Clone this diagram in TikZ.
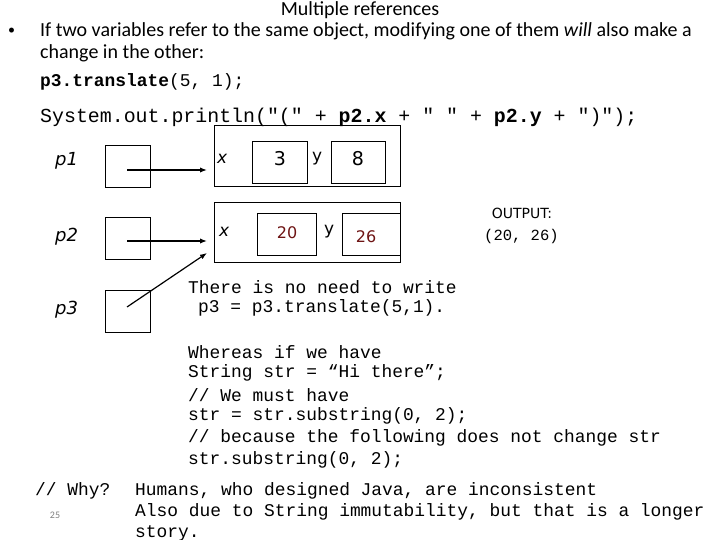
\documentclass[tikz,border=0pt]{standalone}
\usepackage{fontspec}
\setmainfont{Carlito}
\setsansfont{DejaVu Sans}
\setmonofont{Liberation Mono}
\usetikzlibrary{arrows.meta}
\definecolor{valred}{RGB}{110,20,20}

\begin{document}
\begin{tikzpicture}[x=1pt,y=-1pt,
	refbox/.style={draw,thick},
	objbox/.style={draw},
	ref/.style={-{Latex[length=7pt]},very thick},
	code/.style={font=\ttfamily\fontsize{17.9}{21}\selectfont,anchor=west,inner sep=0pt},
	txt/.style={font=\fontsize{20}{22}\selectfont,anchor=west,inner sep=0pt},
	var/.style={font=\sffamily\itshape\fontsize{18}{22}\selectfont,anchor=west,inner sep=0pt}]
	\useasboundingbox (0,0) rectangle (720,540);
	\node[font=\fontsize{20}{22}\selectfont,inner sep=0pt] (title) at (360,10) {Multiple references};
	\node[txt,font=\fontsize{14}{16}\selectfont] (bul) at (8,31) {•};
	\node[txt] (l1) at (40,31) {If two variables refer to the same object, modifying one of them \emph{will} also make a};
	\node[txt] (l2) at (40,53) {change in the other:};
	\node[code] (tr) at (40,82) {\textbf{p3.translate}(5, 1);};
	\node[code,font=\ttfamily\fontsize{19.9}{22}\selectfont] (pr) at (40,117) {System.out.println("(" + \textbf{p2.x} + " " + \textbf{p2.y} + ")");};
	
	% variables
	\node[var] (n1) at (55,161) {p1};
	\node[var] (n2) at (55,237) {p2};
	\node[var] (n3) at (55,310) {p3};
	\draw[refbox] (105,145) rectangle (150,187);
	\draw[refbox] (105,217) rectangle (150,259);
	\draw[refbox] (105,290) rectangle (150,332);
	\coordinate (s1) at (127,170);
	\coordinate (s2) at (127,241);
	\coordinate (s3) at (127,307);
	
	% objects
	\draw[objbox] (214,125) rectangle (400,186);
	\draw[objbox] (214,202) rectangle (400,262);
	\coordinate (o1) at (207,170);
	\coordinate (o2) at (207,241);
	\coordinate (o3) at (207,253);
	\node[var,font=\sffamily\itshape\fontsize{17}{20}\selectfont] (x1) at (217,159) {x};
	\node[var,font=\sffamily\fontsize{17}{20}\selectfont] (y1) at (312,159) {y};
	\node[var,font=\sffamily\itshape\fontsize{17}{20}\selectfont] (x2) at (219,232) {x};
	\node[var,font=\sffamily\fontsize{17}{20}\selectfont] (y2) at (324,232) {y};
	\draw[refbox] (252,141) rectangle (307,183);
	\draw[refbox] (331,141) rectangle (385,183);
	\draw[refbox] (257,213) rectangle (316,255);
	\draw[refbox] (342,213) rectangle (400,255);
	\node[font=\sffamily\fontsize{19}{22}\selectfont] (v1) at (280,159) {3};
	\node[font=\sffamily\fontsize{19}{22}\selectfont] (v2) at (358,159) {8};
	\node[font=\sffamily\fontsize{16}{20}\selectfont,text=valred] (v3) at (287,233) {20};
	\node[font=\sffamily\fontsize{16}{20}\selectfont,text=valred] (v4) at (366,237) {26};
	
	\draw[ref] (s1) -- (o1);
	\draw[ref] (s2) -- (o2);
	\draw[ref] (s3) -- (o3);
	
	\node[font=\sffamily\fontsize{14}{18}\selectfont] (out) at (522,213) {OUTPUT:};
	\node[code,font=\ttfamily\fontsize{15.5}{18}\selectfont] (res) at (484,236) {(20, 26)};
	
	\node[code] (c1) at (188,287) {There is no need to write};
	\node[code] (c2) at (198,308) {p3 = p3.translate(5,1).};
	\node[code] (c3) at (188,352) {Whereas if we have};
	\node[code] (c4) at (188,373) {String str = “Hi there”;};
	\node[code] (c5) at (188,395) {// We must have};
	\node[code] (c6) at (188,416) {str = str.substring(0, 2);};
	\node[code] (c7) at (188,438) {// because the following does not change str};
	\node[code] (c8) at (188,460) {str.substring(0, 2);};
	\node[code] (why) at (35,491) {// Why?};
	\node[font=\fontsize{10}{12}\selectfont,text=gray] (pg) at (55,515) {25};
	\node[code] (h1) at (135,491) {Humans, who designed Java, are inconsistent};
	\node[code] (h2) at (135,512) {Also due to String immutability, but that is a longer};
	\node[code] (h3) at (135,533) {story.};
\end{tikzpicture}
\end{document}
